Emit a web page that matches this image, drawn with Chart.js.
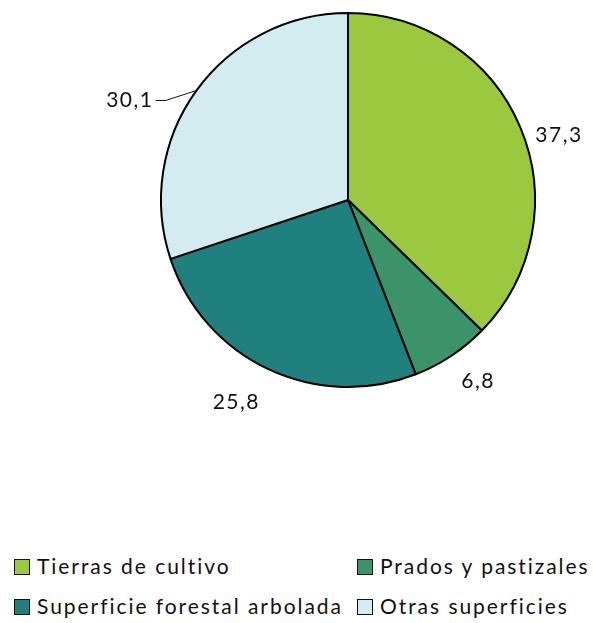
<!DOCTYPE html>
<html>
<head>
<meta charset="utf-8">
<script src="https://cdn.jsdelivr.net/npm/chart.js@4.4.1/dist/chart.umd.min.js"></script>
<style>
  body { margin: 0; background: #fff; font-family: Lato, "Open Sans", sans-serif; }
  #wrap { position: relative; width: 593px; height: 623px; }
  #pie { position: absolute; left: 0; top: 0; }
  .leg { position: absolute; font-size: 21px; letter-spacing: 1.95px; color: #111; white-space: nowrap; line-height: 20px; }
  .leg span.box { display: inline-block; width: 14px; height: 14px; border: 1.5px solid #111; margin-right: 7px; vertical-align: -1px; }
</style>
</head>
<body>
<div id="wrap">
  <canvas id="pie" width="593" height="440"></canvas>
  <div id="legend"></div>
</div>
<script>
// Distribución de la superficie (%)
const categories = ["Tierras de cultivo", "Prados y pastizales", "Superficie forestal arbolada", "Otras superficies"];
const shares = [37.3, 6.8, 25.8, 30.1];
const valueLabels = ["37,3", "6,8", "25,8", "30,1"];
const colors = ["#9ac83e", "#3b9469", "#1f807e", "#d2ecf0"];

// small nudges for the value labels, last one gets a leader line
const labelNudge = [[4, 17], [10, 5], [-16, 11], [-36, 24]];

const valueLabelPlugin = {
  id: 'valueLabels',
  afterDatasetsDraw(chart) {
    const ctx = chart.ctx;
    const arcs = chart.getDatasetMeta(0).data;
    ctx.save();
    ctx.font = '21px Lato, "Open Sans", sans-serif';
    ctx.letterSpacing = '1.5px';
    ctx.fillStyle = '#111';
    ctx.textAlign = 'center';
    ctx.textBaseline = 'middle';
    arcs.forEach((arc, i) => {
      const p = arc.getProps(['x', 'y', 'startAngle', 'endAngle', 'outerRadius'], true);
      const mid = (p.startAngle + p.endAngle) / 2;
      const dx = Math.cos(mid), dy = Math.sin(mid);
      const txt = valueLabels[i];
      const halfW = ctx.measureText(txt).width / 2;
      const r = p.outerRadius + 14;
      const lx = p.x + dx * (r + halfW) + labelNudge[i][0];
      const ly = p.y + dy * (r + 10) + labelNudge[i][1];
      if (i === 3) {
        // leader line from the slice edge to the label
        const ex = p.x + dx * p.outerRadius, ey = p.y + dy * p.outerRadius;
        ctx.strokeStyle = '#111';
        ctx.lineWidth = 1;
        ctx.beginPath();
        ctx.moveTo(ex, ey);
        ctx.lineTo(lx + halfW + 12, ly);
        ctx.lineTo(lx + halfW + 2, ly);
        ctx.stroke();
      }
      ctx.fillText(txt, lx, ly);
    });
    ctx.restore();
  }
};

new Chart(document.getElementById('pie'), {
  type: 'pie',
  data: {
    labels: categories,
    datasets: [{
      data: shares,
      backgroundColor: colors,
      borderColor: '#000',
      borderWidth: 2
    }]
  },
  options: {
    responsive: false,
    animation: false,
    layout: { padding: { left: 160, right: 57, top: 12, bottom: 52 } },
    plugins: {
      legend: { display: false },
      tooltip: { enabled: false }
    }
  },
  plugins: [valueLabelPlugin]
});

// legend in two columns under the pie
const legendPos = [[14, 556], [357, 556], [14, 596], [357, 596]];
const legendEl = document.getElementById('legend');
categories.forEach((name, i) => {
  const d = document.createElement('div');
  d.className = 'leg';
  d.style.left = legendPos[i][0] + 'px';
  d.style.top = legendPos[i][1] + 'px';
  d.innerHTML = `<span class="box" style="background:${colors[i]}"></span>${name}`;
  legendEl.appendChild(d);
});
</script>
</body>
</html>
